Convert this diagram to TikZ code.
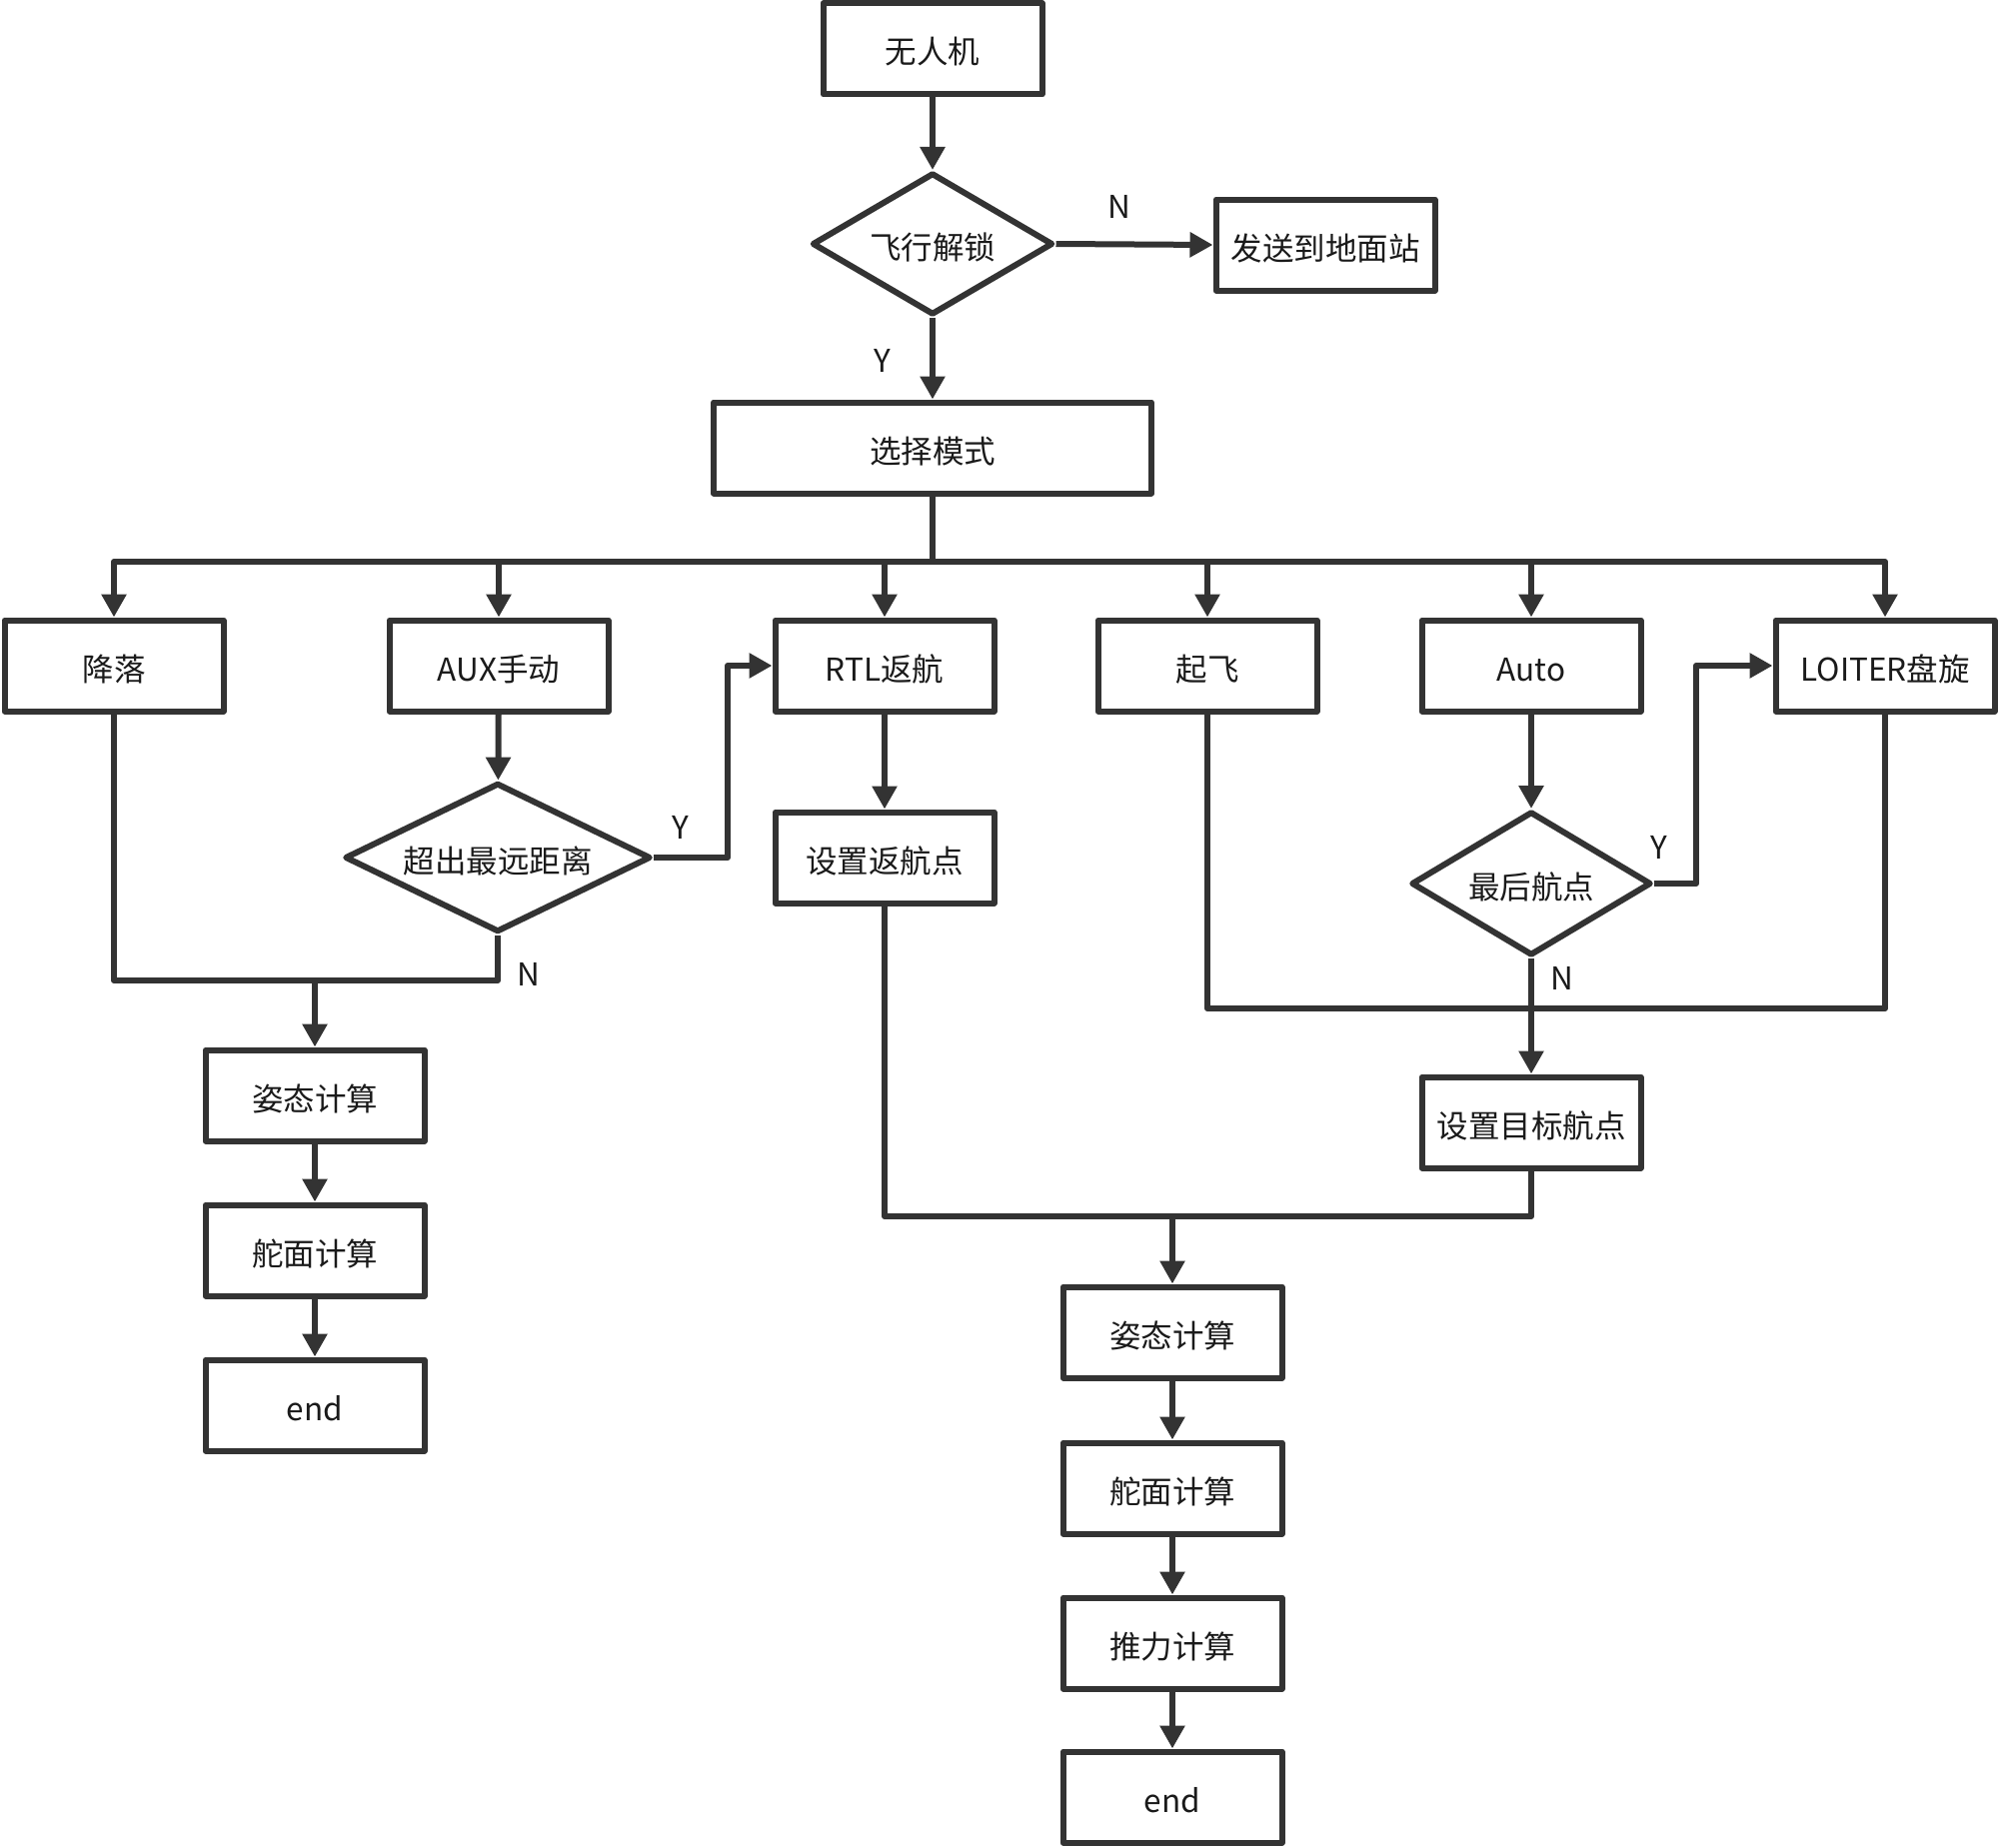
\documentclass[tikz,border=0pt]{standalone}
\usepackage{fontspec}
\setmainfont{Noto Sans CJK SC}
\usetikzlibrary{arrows.meta,shapes.geometric}
\definecolor{lc}{HTML}{333333}
\definecolor{tc}{HTML}{1A1A1A}
\begin{document}
\begin{tikzpicture}[x=1pt,y=-1pt,
  every node/.style={font=\fontsize{31.5}{38}\selectfont, text=tc},
  box/.style={draw=lc, line width=6pt, line join=round, minimum width=219pt, minimum height=91pt, inner sep=0pt, text height=34pt, text depth=4pt},
  dia/.style={draw=lc, line width=6pt, line join=round, shape=diamond, aspect=1.7, inner sep=0pt, minimum width=241pt, minimum height=142pt, text height=34pt, text depth=4pt},
  ln/.style={draw=lc, line width=6pt, line join=round},
  arr/.style={ln, -{Triangle[length=23pt,width=24pt]}},
  lab/.style={inner sep=0pt}
]
\useasboundingbox (0,0) rectangle (2000,1849);

% top
\node[box] (uav) at (933,49) {无人机};
\node[dia] (unlock) at (933,244) {飞行解锁};
\node[box] (ground) at (1326,245) {发送到地面站};
\node[box, minimum width=438pt] (mode) at (933,448) {选择模式};

% row of modes
\node[box] (land) at (114,666) {降落};
\node[box] (aux) at (499,666) {AUX手动};
\node[box] (rtl) at (885,666) {RTL返航};
\node[box] (takeoff) at (1208,666) {起飞};
\node[box] (auto) at (1532,666) {Auto};
\node[box] (loiter) at (1886,666) {LOITER盘旋};

\node[dia, minimum width=306pt, minimum height=147pt] (far) at (498,858) {超出最远距离};
\node[box] (home) at (885,858) {设置返航点};
\node[dia, minimum width=240pt, minimum height=144pt] (last) at (1532,884) {最后航点};
\node[box] (target) at (1532,1123) {设置目标航点};

% left column
\node[box] (att1) at (315,1096) {姿态计算};
\node[box] (rud1) at (315,1251) {舵面计算};
\node[box] (end1) at (315,1406) {end};

% right column
\node[box] (att2) at (1173,1333) {姿态计算};
\node[box] (rud2) at (1173,1489) {舵面计算};
\node[box] (thr) at (1173,1644) {推力计算};
\node[box] (end2) at (1173,1798) {end};

% junctions
\coordinate (bus) at (933,562);
\coordinate (jl) at (315,981);
\coordinate (jm) at (1173,1217);
\coordinate (jr) at (1532,1009);

% connectors
\draw[arr] (uav) -- (unlock);
\draw[arr] (unlock.east) -- (ground.west);
\draw[arr] (unlock) -- (mode);
\draw[ln] (mode.south) -- (bus);
\draw[arr] (bus) -| (land.north);
\draw[arr] (bus) -| (loiter.north);
\foreach \n in {aux,rtl,takeoff,auto}
  \draw[arr] (\n.north |- bus) -- (\n.north);

\draw[arr] (aux) -- (far);
\draw[arr] (far.east) -- ++(74,0) |- (rtl.west);
\draw[ln] (land.south) |- (far.south |- jl) -- (far.south);
\draw[arr] (jl) -- (att1);
\draw[arr] (att1) -- (rud1);
\draw[arr] (rud1) -- (end1);

\draw[arr] (rtl) -- (home);
\draw[ln] (home.south) |- (target.south |- jm) -- (target.south);
\draw[arr] (jm) -- (att2);
\draw[arr] (att2) -- (rud2);
\draw[arr] (rud2) -- (thr);
\draw[arr] (thr) -- (end2);

\draw[arr] (auto) -- (last);
\draw[arr] (last.east) -- ++(42,0) |- (loiter.west);
\draw[ln] (takeoff.south) |- (loiter.south |- jr) -- (loiter.south);
\draw[arr] (last.south) -- (target.north);

% labels
\node[lab] (lN1) at (1120,207) {N};
\node[lab] (lY1) at (883,361) {Y};
\node[lab] (lY2) at (681,828) {Y};
\node[lab] (lN2) at (529,975) {N};
\node[lab] (lY3) at (1660,848) {Y};
\node[lab] (lN3) at (1563,979) {N};
\end{tikzpicture}
\end{document}
